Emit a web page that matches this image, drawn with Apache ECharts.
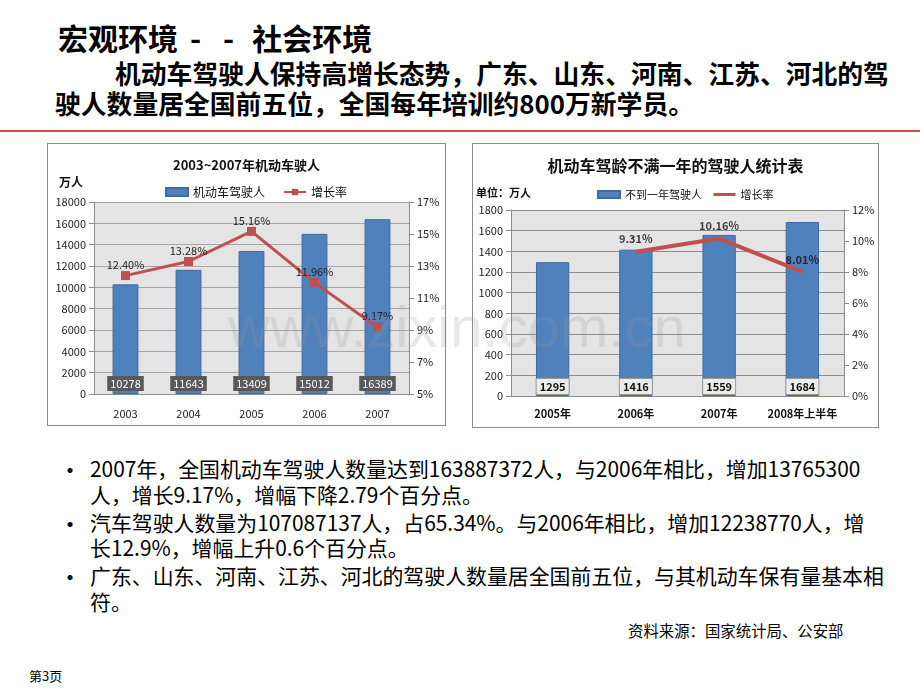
<!DOCTYPE html>
<html>
<head>
<meta charset="utf-8">
<script src="https://cdn.jsdelivr.net/npm/echarts@6/dist/echarts.min.js"></script>
<style>
* { margin: 0; padding: 0; }
body { width: 920px; height: 690px; background: #fff; position: relative; overflow: hidden;
  font-family: "Noto Sans CJK SC", "Noto Sans", sans-serif; color: #000; }
.title { position: absolute; left: 58px; top: 19px; font-size: 30px; font-weight: bold; white-space: nowrap; line-height: 36px; }
.sub { position: absolute; left: 55px; top: 58px; font-size: 25.8px; font-weight: bold; line-height: 30px; white-space: nowrap; text-indent: 60px; }
.redline { position: absolute; left: 0; top: 130px; width: 920px; height: 2px; background: #d24b4b; }
.box { position: absolute; border: 1px solid #8c8c8c; background: #fff; }
.bullets { position: absolute; left: 58px; top: 456px; font-size: 20.9px; line-height: 25.5px; white-space: nowrap; color: #000; }
.bullets .b { position: relative; padding-left: 32px; margin-bottom: 2.5px; }
.bullets .b:before { content: "•"; position: absolute; left: 0; top: 0; font-size: 24px; line-height: 25.5px; }
.src { position: absolute; left: 628px; top: 619px; font-size: 15.4px; white-space: nowrap; color: #000; }
.page { position: absolute; left: 29px; top: 666px; font-size: 13px; white-space: nowrap; color: #000; }
.wm { position: absolute; left: 228px; top: 293px; font-family: "Liberation Sans", Arial, sans-serif; font-size: 58px;
  color: rgba(150,150,150,0.22); white-space: nowrap; pointer-events: none; }
</style>
</head>
<body>
<div class="title">宏观环境<span style="margin-left:12px">-</span><span style="margin-left:22px">-</span><span style="margin-left:18px">社会环境</span></div>
<div class="sub">机动车驾驶人保持高增长态势，广东、山东、河南、江苏、河北的驾<br>驶人数量居全国前五位，全国每年培训约800万新学员。</div>
<div class="redline"></div>

<div id="chart1" class="box" style="left:47px;top:143px;width:397px;height:281px;"></div>
<div id="chart2" class="box" style="left:472px;top:143px;width:405px;height:283px;"></div>

<div class="bullets">
  <div class="b">2007年，全国机动车驾驶人数量达到163887372人，与2006年相比，增加13765300<br>人，增长9.17%，增幅下降2.79个百分点。</div>
  <div class="b">汽车驾驶人数量为107087137人，占65.34%。与2006年相比，增加12238770人，增<br>长12.9%，增幅上升0.6个百分点。</div>
  <div class="b">广东、山东、河南、江苏、河北的驾驶人数量居全国前五位，与其机动车保有量基本相<br>符。</div>
</div>
<div class="src">资料来源：国家统计局、公安部</div>
<div class="page">第3页</div>
<div class="wm">www.zixin.com.cn</div>

<script>
// 左图：2003~2007年机动车驾驶人
var years1 = ['2003', '2004', '2005', '2006', '2007']
var drivers1 = [10278, 11643, 13409, 15012, 16389]
var growth1 = [12.40, 13.28, 15.16, 11.96, 9.17]

// 右图：驾龄不满一年的驾驶人
var years2 = ['2005年', '2006年', '2007年', '2008年上半年']
var newDrivers2 = [1295, 1416, 1559, 1684]
var growth2 = [null, 9.31, 10.16, 8.01]

var barBlue = '#4f81bd'
var lineRed = '#c0504d'
var axisGray = '#8c8c8c'
var font = '"Noto Sans CJK SC", "Noto Sans", sans-serif'

function pct(p) {
  return p.value == null ? '' : p.value.toFixed(2) + '%'
}
function plain(v) {
  return String(v)
}

//画左边的图
var c1 = echarts.init(document.getElementById('chart1'))
c1.setOption({
  animation: false,
  textStyle: { fontFamily: font },
  title: {
    text: '2003~2007年机动车驶人',
    left: 'center',
    top: 10,
    textStyle: { fontSize: 13, fontWeight: 'bold', color: '#111' }
  },
  legend: {
    left: 112,
    top: 37,
    itemGap: 18,
    itemWidth: 22,
    itemHeight: 8,
    textStyle: { fontSize: 12, color: '#111' },
    data: [{ name: '机动车驾驶人', icon: 'rect' }, '增长率']
  },
  graphic: [{
    type: 'text', left: 11, top: 32,
    style: { text: '万人', font: 'bold 12px ' + font, fill: '#111' }
  }],
  grid: {
    left: 46, top: 58, width: 315, height: 192,
    show: true, backgroundColor: '#e4e4e4', borderWidth: 0
  },
  xAxis: {
    type: 'category',
    data: years1,
    axisLine: { lineStyle: { color: axisGray } },
    axisTick: { lineStyle: { color: axisGray }, length: 5 },
    axisLabel: { color: '#222', fontSize: 11, margin: 14 }
  },
  yAxis: [{
    type: 'value', min: 0, max: 18000, interval: 2000,
    axisLine: { show: true, lineStyle: { color: axisGray } },
    axisTick: { show: true, lineStyle: { color: axisGray } },
    axisLabel: { color: '#222', fontSize: 11, margin: 8, formatter: plain },
    splitLine: { lineStyle: { color: '#a6a6a6' } }
  }, {
    type: 'value', min: 5, max: 17, interval: 2,
    axisLine: { show: true, lineStyle: { color: axisGray } },
    axisTick: { show: true, lineStyle: { color: axisGray } },
    axisLabel: { color: '#222', fontSize: 11, margin: 8, formatter: '{value}%' },
    splitLine: { show: false }
  }],
  series: [{
    name: '机动车驾驶人',
    type: 'bar',
    barWidth: '41%',
    data: drivers1,
    itemStyle: { color: barBlue, borderColor: '#3c6aa3', borderWidth: 1 },
    label: {
      show: true, position: 'insideBottom', distance: 3,
      backgroundColor: '#595959', color: '#fff', fontSize: 11, padding: [2, 3]
    }
  }, {
    name: '增长率',
    type: 'line',
    yAxisIndex: 1,
    data: growth1,
    symbol: 'rect',
    symbolSize: 9,
    lineStyle: { color: lineRed, width: 3 },
    itemStyle: { color: lineRed },
    label: { show: true, position: 'top', distance: 1, color: '#222', fontSize: 11, formatter: pct }
  }]
})

//画右边的图
var c2 = echarts.init(document.getElementById('chart2'))
c2.setOption({
  animation: false,
  textStyle: { fontFamily: font },
  title: {
    text: '机动车驾龄不满一年的驾驶人统计表',
    left: 'center',
    top: 9,
    textStyle: { fontSize: 16, fontWeight: 'bold', color: '#111' }
  },
  legend: {
    left: 119,
    top: 40,
    itemGap: 10,
    itemWidth: 22,
    itemHeight: 7,
    textStyle: { fontSize: 11, color: '#111' },
    data: [
      { name: '不到一年驾驶人', icon: 'rect' },
      { name: '增长率', itemStyle: { opacity: 0 }, lineStyle: { width: 3, color: lineRed } }
    ]
  },
  graphic: [{
    type: 'text', left: 3, top: 43,
    style: { text: '单位：万人', font: 'bold 11px ' + font, fill: '#111' }
  }],
  grid: {
    left: 38, top: 66, width: 333, height: 186,
    show: true, backgroundColor: '#e4e4e4', borderWidth: 0
  },
  xAxis: {
    type: 'category',
    data: years2,
    axisLine: { lineStyle: { color: axisGray } },
    axisTick: { lineStyle: { color: axisGray }, length: 5 },
    axisLabel: { color: '#111', fontSize: 11, fontWeight: 'bold', margin: 12, interval: 0 }
  },
  yAxis: [{
    type: 'value', min: 0, max: 1800, interval: 200,
    axisLine: { show: true, lineStyle: { color: axisGray } },
    axisTick: { show: true, lineStyle: { color: axisGray } },
    axisLabel: { color: '#222', fontSize: 11, margin: 8, formatter: plain },
    splitLine: { lineStyle: { color: '#8c8c8c' } }
  }, {
    type: 'value', min: 0, max: 12, interval: 2,
    axisLine: { show: true, lineStyle: { color: axisGray } },
    axisTick: { show: true, lineStyle: { color: axisGray } },
    axisLabel: { color: '#222', fontSize: 11, margin: 8, formatter: '{value}%' },
    splitLine: { show: false }
  }],
  series: [{
    name: '不到一年驾驶人',
    type: 'bar',
    barWidth: '40%',
    data: newDrivers2,
    itemStyle: { color: barBlue, borderColor: '#3c6aa3', borderWidth: 1 },
    label: {
      show: true, position: 'insideBottom', distance: 2,
      backgroundColor: '#ececec', borderColor: '#9a9a9a', borderWidth: 1,
      color: '#111', fontSize: 11, fontWeight: 'bold', padding: [2, 3]
    }
  }, {
    name: '增长率',
    type: 'line',
    yAxisIndex: 1,
    data: growth2,
    symbol: 'none',
    lineStyle: { color: lineRed, width: 4 },
    itemStyle: { color: lineRed }
  }, {
    // 只用来放折线的数值标签
    name: '增长率标签',
    type: 'scatter',
    yAxisIndex: 1,
    data: growth2,
    symbolSize: 0,
    silent: true,
    label: { show: true, position: 'top', distance: 7, color: '#111', fontSize: 11, fontWeight: 'bold', formatter: pct }
  }]
})
</script>
</body>
</html>
